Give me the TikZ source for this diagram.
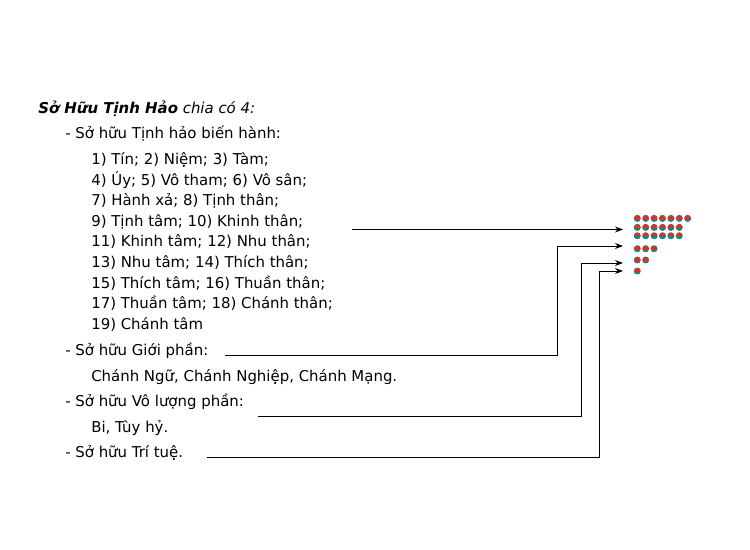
\documentclass[tikz,border=0pt]{standalone}
\usepackage{fontspec}
\setmainfont{DejaVu Sans}
\usepackage{xcolor}
\usepackage{tikz}
\usetikzlibrary{arrows.meta,positioning}
\definecolor{dotred}{RGB}{198,58,46}
\definecolor{dotteal}{RGB}{38,128,128}
\tikzset{
  every picture/.style = {
    >={Stealth[length=6pt,width=4.5pt]},
    x = 0.75pt,
    y = -0.75pt
  }
  , % lines of text
  text-line/.style = {
    anchor = base west,
    inner sep = 0pt,
    font = \fontsize{11.2}{13}\selectfont
  }
  , % connectors
  link/.style = {
    line width = 0.75pt
  }
  , % small dots
  dot-state/.style = {
    circle,
    inner sep = 0pt,
    minimum size = 5.2pt,
    fill = dotred,
    path picture = {
      \fill[dotteal] ([yshift=-0.4pt]path picture bounding box.west) rectangle (path picture bounding box.south east);
    }
  }
}
\begin{document}
\begin{tikzpicture}
  \useasboundingbox (0,0) rectangle (750,550);
  \node[text-line] at (38,113) (title) {\textbf{\textit{Sở Hữu Tịnh Hảo}} \textit{chia có 4:}};
  \node[text-line] at (65,138) (bienhanh) {- Sở hữu Tịnh hảo biến hành:};
  \node[text-line] at (91,164) (bh1) {1) Tín; 2) Niệm; 3) Tàm;};
  \node[text-line] at (91,185) (bh2) {4) Úy; 5) Vô tham; 6) Vô sân;};
  \node[text-line] at (91,205) (bh3) {7) Hành xả; 8) Tịnh thân;};
  \node[text-line] at (91,226) (bh4) {9) Tịnh tâm; 10) Khinh thân;};
  \node[text-line] at (91,246) (bh5) {11) Khinh tâm; 12) Nhu thân;};
  \node[text-line] at (91,267) (bh6) {13) Nhu tâm; 14) Thích thân;};
  \node[text-line] at (91,288) (bh7) {15) Thích tâm; 16) Thuần thân;};
  \node[text-line] at (91,308) (bh8) {17) Thuần tâm; 18) Chánh thân;};
  \node[text-line] at (91,329) (bh9) {19) Chánh tâm};
  \node[text-line] at (65,355) (gioi) {- Sở hữu Giới phần:};
  \node[text-line] at (91,381) (gioi1) {Chánh Ngữ, Chánh Nghiệp, Chánh Mạng.};
  \node[text-line] at (65,406) (voluong) {- Sở hữu Vô lượng phần:};
  \node[text-line] at (91,432) (voluong1) {Bi, Tùy hỷ.};
  \node[text-line] at (65,457) (tritue) {- Sở hữu Trí tuệ.};
  % the dots
  \foreach \n/\y [count=\r] in {7/218.3, 6/227.3, 6/235.7, 3/248.7, 2/260, 1/271}
    \foreach \k in {1,...,\n}
      \node[dot-state] at ({637.3+8.4*(\k-1)},\y) (d\r-\k) {};
  % ends of the connectors
  \coordinate (s1) at (352,229.5);
  \coordinate (t1) at (623,229.5);
  \coordinate (s2) at (225,355.7);
  \coordinate (k2) at (557,355.7);
  \coordinate (t2) at (623,246);
  \coordinate (s3) at (258,416);
  \coordinate (k3) at (581,416);
  \coordinate (t3) at (623,263);
  \coordinate (s4) at (207,457.3);
  \coordinate (k4) at (599,457.3);
  \coordinate (t4) at (623,271);
  \draw[link,->] (s1) -- (t1);
  \draw[link,->] (s2) -- (k2) |- (t2);
  \draw[link,->] (s3) -- (k3) |- (t3);
  \draw[link,->] (s4) -- (k4) |- (t4);
\end{tikzpicture}
\end{document}
